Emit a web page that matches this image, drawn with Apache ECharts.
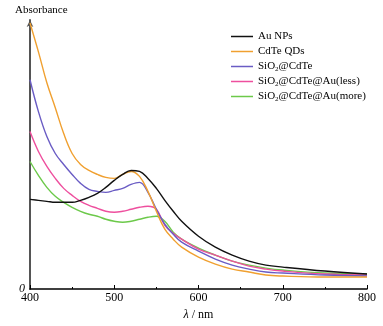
<!DOCTYPE html>
<html>
<head>
<meta charset="utf-8">
<script src="https://cdn.jsdelivr.net/npm/echarts@6/dist/echarts.min.js"></script>
<style>
  html, body { margin: 0; padding: 0; background: #fff; }
  #chart { width: 383px; height: 326px; }
</style>
</head>
<body>
<div id="chart"></div>
<script>
// wavelength (nm)
const wavelength = [400, 410, 420, 430, 440, 450, 460, 470, 480, 490, 500, 510, 520, 530, 540, 550, 560, 570, 580, 600, 620, 640, 660, 680, 700, 750, 800];

// absorbance (arb. units)
const auNPs    = [0.90, 0.89, 0.88, 0.87, 0.87, 0.87, 0.89, 0.92, 0.96, 1.02, 1.09, 1.15, 1.19, 1.18, 1.11, 1.01, 0.89, 0.78, 0.68, 0.53, 0.42, 0.34, 0.28, 0.24, 0.22, 0.18, 0.15];
const cdteQDs  = [2.67, 2.38, 2.07, 1.82, 1.56, 1.36, 1.25, 1.19, 1.15, 1.12, 1.11, 1.15, 1.18, 1.13, 0.98, 0.78, 0.60, 0.50, 0.42, 0.32, 0.25, 0.20, 0.17, 0.14, 0.13, 0.12, 0.12];
const sio2CdTe = [2.10, 1.78, 1.53, 1.36, 1.25, 1.15, 1.06, 1.00, 0.98, 0.97, 0.99, 1.01, 1.05, 1.07, 0.97, 0.80, 0.65, 0.55, 0.47, 0.38, 0.30, 0.24, 0.20, 0.17, 0.16, 0.14, 0.13];
const auLess   = [1.58, 1.38, 1.23, 1.11, 1.01, 0.94, 0.88, 0.84, 0.81, 0.78, 0.77, 0.78, 0.80, 0.82, 0.83, 0.80, 0.64, 0.56, 0.50, 0.40, 0.34, 0.28, 0.23, 0.20, 0.18, 0.15, 0.14];
const auMore   = [1.28, 1.14, 1.02, 0.93, 0.87, 0.82, 0.78, 0.75, 0.73, 0.70, 0.68, 0.67, 0.68, 0.70, 0.72, 0.73, 0.68, 0.57, 0.50, 0.41, 0.34, 0.28, 0.24, 0.21, 0.19, 0.16, 0.15];

const seriesNames = ['Au NPs', 'CdTe QDs', 'SiO2@CdTe', 'SiO2@CdTe@Au(less)', 'SiO2@CdTe@Au(more)'];
const seriesData = [auNPs, cdteQDs, sio2CdTe, auLess, auMore];
const colors = ['#111111', '#f0a030', '#6a5cc4', '#ee4f9e', '#6cc94a'];

const chart = echarts.init(document.getElementById('chart'));
const serif = '"Liberation Serif", "DejaVu Serif", serif';

chart.setOption({
  animation: false,
  grid: { left: 30, right: 16, top: 20, bottom: 36 },
  legend: {
    data: seriesNames,
    orient: 'vertical',
    left: 226,
    top: 25,
    icon: 'rect',
    itemWidth: 22,
    itemHeight: 1.5,
    itemGap: 2,
    textStyle: {
      fontFamily: serif,
      fontSize: 11,
      color: '#000',
      lineHeight: 13,
      rich: {
        sub: { fontFamily: serif, fontSize: 7, verticalAlign: 'bottom', padding: [6, 0, 0, 0], color: '#000' }
      }
    },
    formatter: name => name.replace('SiO2', 'SiO{sub|2}')
  },
  xAxis: {
    type: 'value',
    min: 400,
    max: 800,
    interval: 100,
    name: '{it|λ} / nm',
    nameLocation: 'middle',
    nameGap: 20,
    nameTextStyle: {
      fontFamily: serif,
      fontSize: 12,
      color: '#000',
      rich: { it: { fontFamily: serif, fontStyle: 'italic', fontSize: 12, color: '#000' } }
    },
    axisLine: { lineStyle: { color: '#000', width: 1.5 } },
    axisTick: { inside: true, length: 4, lineStyle: { color: '#000' } },
    minorTick: { show: true, splitNumber: 2, length: 2, lineStyle: { color: '#000' } },
    axisLabel: { fontFamily: serif, fontSize: 12, color: '#000', margin: 3 },
    splitLine: { show: false }
  },
  yAxis: {
    type: 'value',
    min: 0,
    max: 2.7,
    interval: 2.7,
    name: 'Absorbance',
    nameLocation: 'end',
    nameGap: 4,
    nameTextStyle: { fontFamily: serif, fontSize: 11, color: '#000', align: 'left', padding: [0, 0, 0, -15] },
    axisLine: {
      show: true,
      symbol: ['none', 'arrow'],
      symbolSize: [5, 7],
      lineStyle: { color: '#555', width: 2 }
    },
    axisTick: { show: false },
    axisLabel: {
      fontFamily: serif,
      fontStyle: 'italic',
      fontSize: 12,
      color: '#000',
      margin: 5,
      formatter: v => (v === 0 ? '0' : '')
    },
    splitLine: { show: false }
  },
  series: seriesNames.map((name, i) => ({
    name: name,
    type: 'line',
    data: wavelength.map((w, j) => [w, seriesData[i][j]]),
    smooth: 0.4,
    showSymbol: false,
    lineStyle: { color: colors[i], width: 1.4 },
    itemStyle: { color: colors[i] },
    z: 10 - i
  }))
});
</script>
</body>
</html>
